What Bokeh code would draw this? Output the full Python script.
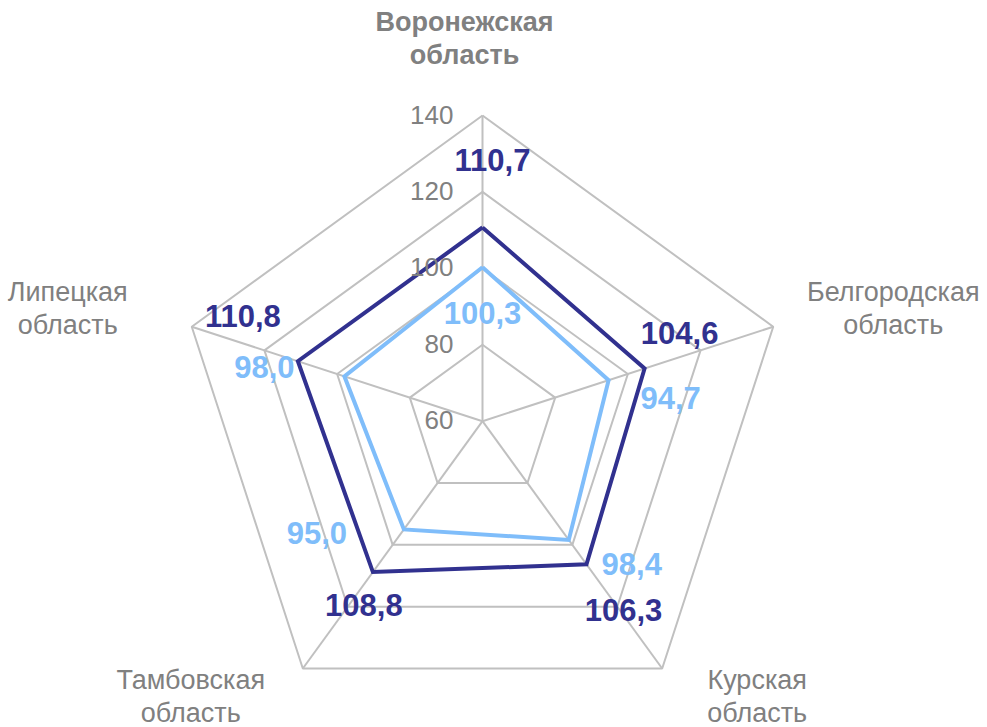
import math
from bokeh.plotting import figure
from bokeh.models import Range1d
from bokeh.core.properties import value
from bokeh.embed import file_html
from bokeh.resources import INLINE

# ---- data ----
categories = ["Воронежская\nобласть", "Белгородская\nобласть", "Курская\nобласть",
              "Тамбовская\nобласть", "Липецкая\nобласть"]
series_2 = [110.7, 104.6, 106.3, 108.8, 110.8]   # dark
series_1 = [100.3, 94.7, 98.4, 95.0, 98.0]       # light
tick_values = [60, 80, 100, 120, 140]
tick_labels = ["60", "80", "100", "120", "140"]

# ---- layout / style ----
R_MIN, R_MAX = 60, 140
W, H = 987, 727
CX_PX, CY_PX = 482, 420.7
PX_PER_UNIT = 305.7 / (R_MAX - R_MIN)

DARK = "#31318F"
LIGHT = "#7FBDFA"
GRID = "#C0C0C0"
GRAY = "#808080"
FONT = value("Liberation Sans")

# label pixel offsets (screen, +down)
dark_off = [(10, -67), (35, -36), (37, 46), (-9, 33), (-55, -45)]
light_off = [(0, 46), (62, 18), (63, 24), (-87, 4), (-80, -9)]
cat_off = [(-18, -77), (120, -18), (95, 28), (-112, 28), (-124, -18)]

n = len(categories)
angles = [math.radians(90 - 72 * i) for i in range(n)]


def pos(v, i):
    r = v - R_MIN
    return r * math.cos(angles[i]), r * math.sin(angles[i])


x0 = -CX_PX / PX_PER_UNIT
x1 = (W - CX_PX) / PX_PER_UNIT
y1 = CY_PX / PX_PER_UNIT
y0 = -(H - CY_PX) / PX_PER_UNIT

p = figure(width=W, height=H, x_range=Range1d(x0, x1), y_range=Range1d(y0, y1),
           toolbar_location=None, output_backend="svg", min_border=0,
           outline_line_color=None)
p.axis.visible = False
p.grid.visible = False
p.background_fill_color = "white"
p.border_fill_color = "white"

# grid polygons
gx, gy = [], []
for t in tick_values[1:]:
    pts = [pos(t, i) for i in range(n)] + [pos(t, 0)]
    gx.append([q[0] for q in pts])
    gy.append([q[1] for q in pts])
p.multi_line(gx, gy, line_color=GRID, line_width=2)

# spokes
outer = [pos(R_MAX, i) for i in range(n)]
p.segment(x0=[0] * n, y0=[0] * n, x1=[q[0] for q in outer], y1=[q[1] for q in outer],
          line_color=GRID, line_width=2)

# series
for vals, col in ((series_1, LIGHT), (series_2, DARK)):
    pts = [pos(v, i) for i, v in enumerate(vals)] + [pos(vals[0], 0)]
    p.line([q[0] for q in pts], [q[1] for q in pts], line_color=col, line_width=4,
           line_join="miter")

# tick labels
p.text(x=[0] * len(tick_values), y=[t - R_MIN for t in tick_values], text=tick_labels,
       x_offset=-29, y_offset=-1, text_align="right", text_baseline="middle",
       text_font=FONT, text_font_size="26px", text_color=GRAY)

# data labels
for vals, col, offs in ((series_1, LIGHT, light_off), (series_2, DARK, dark_off)):
    pts = [pos(v, i) for i, v in enumerate(vals)]
    labels = [f"{v:.1f}".replace(".", ",") for v in vals]
    p.text(x=[q[0] for q in pts], y=[q[1] for q in pts], text=labels,
           x_offset=[o[0] for o in offs], y_offset=[o[1] for o in offs],
           text_align="center", text_baseline="middle", text_font=FONT,
           text_font_style="bold", text_font_size="31px", text_color=col)

# category labels
styles = ["bold"] + ["normal"] * (n - 1)
for i in range(n):
    p.text(x=[outer[i][0]], y=[outer[i][1]], text=[categories[i]],
           x_offset=cat_off[i][0], y_offset=cat_off[i][1],
           text_align="center", text_baseline="middle", text_font=FONT,
           text_font_style=styles[i], text_font_size="27px", text_color=GRAY,
           text_line_height=1.1)

open("out.html", "w").write(file_html(p, INLINE))
